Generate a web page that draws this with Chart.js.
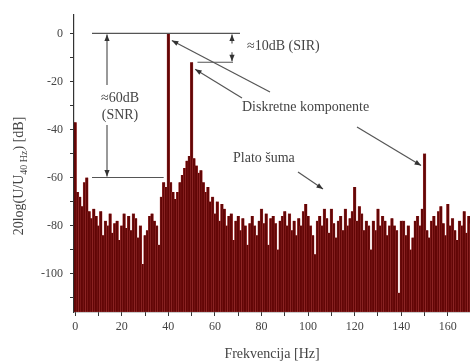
<!DOCTYPE html>
<html>
<head>
<meta charset="utf-8">
<script src="https://cdn.jsdelivr.net/npm/chart.js@4/dist/chart.umd.min.js"></script>
<style>
  html, body { margin: 0; padding: 0; background: #fff; }
  #wrap { width: 470px; height: 363px; position: relative; }
</style>
</head>
<body>
<div id="wrap"><canvas id="spektar"></canvas></div>
<script>
// frekvencije 0..170 Hz (1 Hz korak) i nivo u dB
const frekvencije = Array.from({ length: 171 }, (_, i) => i);
const nivoDb = [
  -37, -66, -68, -72, -62, -60, -74, -77, -73, -76,
  -80, -74, -84, -78, -80, -75, -83, -79, -78, -86,
  -80, -75, -81, -76, -82, -75, -77, -85, -80, -96,
  -84, -82, -76, -75, -78, -80, -88, -68, -62, -64,
  0, -62, -66, -69, -66, -62, -59, -56, -53, -51,
  -12, -52, -55, -58, -57, -62, -66, -64, -70, -68,
  -75, -70, -78, -71, -73, -80, -76, -75, -86, -78,
  -76, -82, -77, -80, -88, -79, -76, -80, -84, -78,
  -73, -79, -75, -88, -77, -76, -79, -90, -78, -76,
  -74, -80, -75, -82, -78, -84, -77, -80, -74, -71,
  -76, -80, -84, -92, -78, -76, -80, -73, -77, -83,
  -73, -79, -85, -78, -76, -82, -73, -80, -77, -74,
  -64, -78, -72, -75, -82, -78, -80, -90, -78, -82,
  -73, -80, -76, -78, -84, -80, -77, -80, -82, -108,
  -78, -78, -84, -80, -90, -85, -78, -76, -80, -73,
  -50, -82, -85, -78, -76, -80, -74, -72, -79, -84,
  -71, -80, -77, -82, -86, -78, -80, -74, -83, -76,
  -79
];
const xTicks = [0, 10, 20, 30, 40, 50, 60, 70, 80, 90, 100, 110, 120, 130, 140, 150, 160];
const yTicks = [0, -10, -20, -30, -40, -50, -60, -70, -80, -90, -100, -110];
const yMin = -116;
const yMax = 8;

const serif = "'Liberation Serif', 'DejaVu Serif', serif";

function strelica(ctx, x1, y1, x2, y2) {
  // linija od (x1,y1) do (x2,y2) sa vrhom strelice na (x2,y2)
  const ug = Math.atan2(y2 - y1, x2 - x1);
  ctx.beginPath();
  ctx.moveTo(x1, y1);
  ctx.lineTo(x2, y2);
  ctx.stroke();
  ctx.beginPath();
  ctx.moveTo(x2, y2);
  ctx.lineTo(x2 - 7 * Math.cos(ug - 0.38), y2 - 7 * Math.sin(ug - 0.38));
  ctx.lineTo(x2 - 7 * Math.cos(ug + 0.38), y2 - 7 * Math.sin(ug + 0.38));
  ctx.closePath();
  ctx.fill();
}

const anotacije = {
  id: "anotacije",
  afterDatasetsDraw(chart) {
    const ctx = chart.ctx;
    const x = chart.scales.x;
    const y = chart.scales.y;
    const y0 = y.getPixelForValue(0);
    const y60 = y.getPixelForValue(-60);
    const y12 = y.getPixelForValue(-12);
    ctx.save();
    ctx.strokeStyle = "#555";
    ctx.fillStyle = "#333";
    ctx.lineWidth = 1.2;

    // referentne linije
    ctx.beginPath();
    ctx.moveTo(92, y0); ctx.lineTo(240, y0);
    ctx.moveTo(92, y60); ctx.lineTo(x.getPixelForValue(38), y60);
    ctx.moveTo(x.getPixelForValue(52.5), y12); ctx.lineTo(233, y12);
    ctx.stroke();

    // SNR strelica
    strelica(ctx, 107, 85, 107, y0 + 1);
    strelica(ctx, 107, 125, 107, y60 - 1);
    // SIR strelica
    strelica(ctx, 232, y0 + 10, 232, y0 + 1);
    strelica(ctx, 232, y12 - 10, 232, y12 - 1);

    // strelice prema komponentama
    strelica(ctx, 270, 92, x.getPixelForValue(41.5), y0 + 7);
    strelica(ctx, 242, 98, x.getPixelForValue(51.5), y12 + 7);
    strelica(ctx, 357, 127, x.getPixelForValue(148.5), y.getPixelForValue(-55));
    strelica(ctx, 298, 172, 323, 189);

    ctx.fillStyle = "#444";
    ctx.font = "14px " + serif;
    ctx.textAlign = "center";
    ctx.textBaseline = "middle";
    ctx.fillText("\u224860dB", 120, 98);
    ctx.fillText("(SNR)", 120, 115);
    ctx.textAlign = "left";
    ctx.fillText("\u224810dB (SIR)", 247, 46);
    ctx.fillText("Diskretne komponente", 242, 107);
    ctx.fillText("Plato \u0161uma", 233, 158);

    // naslov y ose sa indeksom
    ctx.translate(19, 176);
    ctx.rotate(-Math.PI / 2);
    ctx.textAlign = "left";
    const d1 = "20log(U/U";
    const d2 = "40 Hz";
    const d3 = ") [dB]";
    ctx.font = "14px " + serif;
    const w1 = ctx.measureText(d1).width;
    const w3 = ctx.measureText(d3).width;
    ctx.font = "10px " + serif;
    const w2 = ctx.measureText(d2).width;
    let px = -(w1 + w2 + w3) / 2;
    ctx.font = "14px " + serif;
    ctx.fillText(d1, px, 0);
    px += w1;
    ctx.font = "10px " + serif;
    ctx.fillText(d2, px, 5);
    px += w2;
    ctx.font = "14px " + serif;
    ctx.fillText(d3, px, 0);
    ctx.restore();
  },
};

new Chart(document.getElementById("spektar").getContext("2d"), {
  type: "bar",
  data: {
    labels: frekvencije,
    datasets: [
      {
        data: frekvencije.map((f, i) => ({ x: f, y: [yMin, nivoDb[i]] })),
        backgroundColor: "#620606",
        borderColor: "#b04040",
        borderWidth: 0.5,
        borderSkipped: "start",
        barThickness: 2.8,
      },
    ],
  },
  options: {
    responsive: true,
    maintainAspectRatio: false,
    animation: false,
    layout: { padding: { top: 13, right: 0, left: 0, bottom: 0 } },
    plugins: {
      legend: { display: false },
      tooltip: { enabled: false },
    },
    scales: {
      x: {
        type: "linear",
        offset: false,
        min: -0.5,
        max: 169.5,
        afterBuildTicks: (s) => { s.ticks = xTicks.map((v) => ({ value: v })); },
        afterFit: (s) => { s.height = 51; },
        border: { display: true, color: "#333", width: 1.2 },
        grid: { offset: false, drawOnChartArea: false, drawTicks: true, tickLength: 4, color: "#333" },
        ticks: {
          font: { family: serif, size: 12 },
          color: "#444",
          maxRotation: 0,
          autoSkip: false,
          padding: 4,
          callback: (v) => (v % 20 === 0 ? String(v) : ""),
        },
        title: {
          display: true,
          text: "Frekvencija [Hz]",
          font: { family: serif, size: 14 },
          color: "#444",
          padding: { top: 2, bottom: 0 },
        },
      },
      y: {
        min: yMin,
        max: yMax,
        afterBuildTicks: (s) => { s.ticks = yTicks.map((v) => ({ value: v })); },
        afterFit: (s) => { s.width = 74; },
        border: { display: true, color: "#333", width: 1.2 },
        grid: { drawOnChartArea: false, drawTicks: true, tickLength: 4, color: "#333" },
        ticks: {
          font: { family: serif, size: 12 },
          color: "#444",
          autoSkip: false,
          padding: 7,
          callback: (v) => (v % 20 === 0 ? String(v) : ""),
        },
      },
    },
  },
  plugins: [anotacije],
});
</script>
</body>
</html>
